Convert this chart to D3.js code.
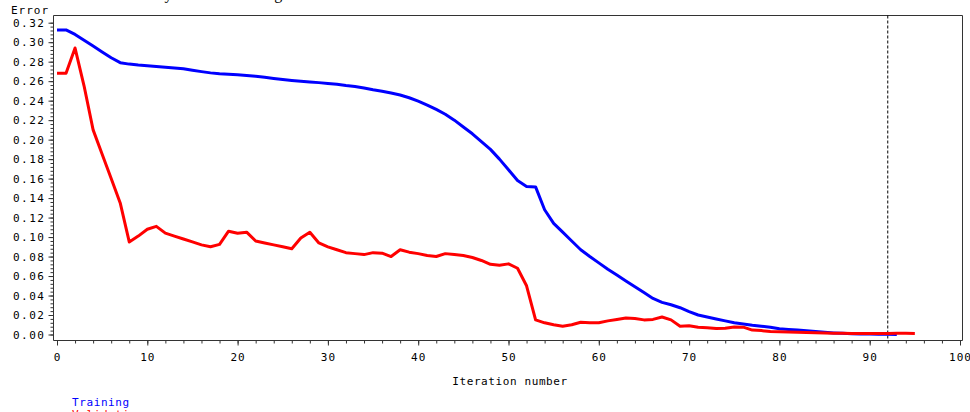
<!DOCTYPE html>
<html>
<head>
<meta charset="utf-8">
<script src="https://cdn.jsdelivr.net/npm/d3@7"></script>
<style>
    body { margin: 0; background: #fff; }
    svg { display: block; }
    .tick-label { font-family: "DejaVu Sans Mono", monospace; font-size: 11px; letter-spacing: 1.5px; fill: #000; }
</style>
</head>
<body>
<div id="chart"></div>
<script>
// DATA
// iteration numbers for each series
var trainIter = d3.range(0, 94);
var validIter = d3.range(0, 96);
// training error per iteration (blue)
var trainError = [
    0.3126, 0.3126, 0.3080, 0.3020, 0.2960, 0.2900, 0.2840, 0.2790, 0.2775, 0.2765,
    0.2758, 0.2750, 0.2742, 0.2735, 0.2727, 0.2712, 0.2698, 0.2685, 0.2675, 0.2670,
    0.2665, 0.2658, 0.2650, 0.2640, 0.2628, 0.2617, 0.2608, 0.2600, 0.2592, 0.2585,
    0.2577, 0.2568, 0.2555, 0.2545, 0.2530, 0.2512, 0.2497, 0.2478, 0.2458, 0.2430,
    0.2395, 0.2355, 0.2310, 0.2260, 0.2200, 0.2130, 0.2060, 0.1980, 0.1900, 0.1800,
    0.1690, 0.1580, 0.1520, 0.1515, 0.1280, 0.1140, 0.1050, 0.0960, 0.0870, 0.0800,
    0.0735, 0.0670, 0.0610, 0.0550, 0.0490, 0.0430, 0.0370, 0.0330, 0.0305, 0.0275,
    0.0235, 0.0200, 0.0180, 0.0160, 0.0140, 0.0120, 0.0108, 0.0095, 0.0085, 0.0075,
    0.0060, 0.0052, 0.0045, 0.0038, 0.0030, 0.0022, 0.0016, 0.0012, 0.0008, 0.0006,
    0.0004, 0.0003, 0.0002, 0.0001
];
// validation error per iteration (red)
var validError = [
    0.2680, 0.2680, 0.2940, 0.2550, 0.2100, 0.1850, 0.1600, 0.1350, 0.0950, 0.1010,
    0.1080, 0.1110, 0.1040, 0.1010, 0.0980, 0.0950, 0.0920, 0.0900, 0.0925, 0.1060,
    0.1040, 0.1050, 0.0960, 0.0940, 0.0920, 0.0900, 0.0880, 0.0990, 0.1050, 0.0940,
    0.0900, 0.0870, 0.0840, 0.0830, 0.0820, 0.0840, 0.0835, 0.0800, 0.0870, 0.0845,
    0.0830, 0.0810, 0.0800, 0.0830, 0.0820, 0.0810, 0.0790, 0.0760, 0.0720, 0.0710,
    0.0725, 0.0680, 0.0500, 0.0150, 0.0120, 0.0100, 0.0085, 0.0100, 0.0125, 0.0120,
    0.0120, 0.0140, 0.0155, 0.0170, 0.0165, 0.0150, 0.0155, 0.0180, 0.0150, 0.0085,
    0.0090, 0.0075, 0.0070, 0.0062, 0.0065, 0.0078, 0.0075, 0.0045, 0.0040, 0.0030,
    0.0027, 0.0025, 0.0022, 0.0020, 0.0018, 0.0015, 0.0013, 0.0012, 0.0010, 0.0010,
    0.0010, 0.0010, 0.0010, 0.0012, 0.0012, 0.0010
];
// axis ticks
var yTicks = d3.range(0, 0.3201, 0.02);
var xTicks = d3.range(0, 101, 10);
// selected iteration (dashed reference line)
var chosenIter = 92;
// legend entries
var legendLabels = ["Training", "Validation"];
var legendColors = ["#0000ff", "#ff0000"];

// GLOBAL VARIABLES
var svgWidth = 970;
var svgHeight = 412;
// the frame of the plot
var frame = { left: 53.5, right: 962.5, top: 15.5, bottom: 340.5 };

var svg = d3.select("#chart")
    .append("svg")
    .attr("width", svgWidth)
    .attr("height", svgHeight);

// scales
var xScale = d3.scaleLinear()
    .domain([0, 100])
    .range([57, 960]);
var yScale = d3.scaleLinear()
    .domain([0, 0.32])
    .range([334.5, 22.7]);

// clipped text of the page above the chart (only descenders show)
svg.append("text")
    .attr("x", 56)
    .attr("y", -1)
    .attr("font-family", "Liberation Serif")
    .attr("font-size", 16)
    .attr("fill", "#000")
    .text("error falls steadily with the training");

// frame (top and right sides)
svg.append("path")
    .attr("d", `M${frame.left},${frame.top}H${frame.right}V${frame.bottom}`)
    .attr("fill", "none")
    .attr("stroke", "#333")
    .attr("stroke-width", 1);

// y axis
var leftAxis = d3.axisLeft(yScale)
    .tickValues(yTicks)
    .tickSize(5)
    .tickPadding(3)
    .tickFormat(d3.format(".2f"));
var yMinor = d3.axisLeft(yScale)
    .tickValues(d3.range(0, 0.3201, 0.004))
    .tickSize(3)
    .tickFormat("");

var yAxisG = svg.append("g")
    .attr("transform", `translate(${frame.left}, 0)`)
    .call(leftAxis);
svg.append("g")
    .attr("transform", `translate(${frame.left}, 0)`)
    .call(yMinor);

// x axis
var bottomAxis = d3.axisBottom(xScale)
    .tickValues(xTicks)
    .tickSize(5)
    .tickPadding(8)
    .tickFormat(d3.format("d"));
var xMinor = d3.axisBottom(xScale)
    .tickValues(d3.range(0, 101, 2))
    .tickSize(3)
    .tickFormat("");

var xAxisG = svg.append("g")
    .attr("transform", `translate(0, ${frame.bottom})`)
    .call(bottomAxis);
svg.append("g")
    .attr("transform", `translate(0, ${frame.bottom})`)
    .call(xMinor);

// axis domain lines span the whole frame
svg.selectAll(".domain").remove();
svg.append("line")
    .attr("x1", frame.left).attr("x2", frame.left)
    .attr("y1", frame.top).attr("y2", frame.bottom)
    .attr("stroke", "#333");
svg.append("line")
    .attr("x1", frame.left).attr("x2", frame.right)
    .attr("y1", frame.bottom).attr("y2", frame.bottom)
    .attr("stroke", "#333");

svg.selectAll(".tick line").attr("stroke", "#333");
svg.selectAll(".tick text")
    .classed("tick-label", true)
    .attr("font-family", null)
    .attr("font-size", null);
xAxisG.selectAll(".tick text").style("letter-spacing", "1px");

// axis titles
svg.append("text")
    .attr("class", "tick-label")
    .attr("x", 11)
    .attr("y", 14)
    .style("letter-spacing", "1px")
    .text("Error");

svg.append("text")
    .attr("class", "tick-label")
    .attr("x", 510)
    .attr("y", 385)
    .attr("text-anchor", "middle")
    .style("letter-spacing", "0.6px")
    .text("Iteration number");

// dashed line at the chosen iteration
svg.append("line")
    .attr("x1", xScale(chosenIter)).attr("x2", xScale(chosenIter))
    .attr("y1", frame.top).attr("y2", frame.bottom)
    .attr("stroke", "#000")
    .attr("stroke-width", 1)
    .attr("stroke-dasharray", "3,2");

// the lines
var line = d3.line()
    .x(d => xScale(d[0]))
    .y(d => yScale(d[1]));

var trainData = trainIter.map((d, i) => [d, trainError[i]]);
var validData = validIter.map((d, i) => [d, validError[i]]);

svg.append("path")
    .datum(trainData)
    .attr("d", line)
    .attr("fill", "none")
    .attr("stroke", legendColors[0])
    .attr("stroke-width", 3)
    .attr("stroke-linejoin", "round");

svg.append("path")
    .datum(validData)
    .attr("d", line)
    .attr("fill", "none")
    .attr("stroke", legendColors[1])
    .attr("stroke-width", 3)
    .attr("stroke-linejoin", "round");

// legend
svg.selectAll(".legend")
    .data(legendLabels)
    .enter()
    .append("text")
    .attr("class", "tick-label legend")
    .attr("x", 72)
    .attr("y", (d, i) => 406 + i * 12)
    .style("letter-spacing", "0.6px")
    .style("fill", (d, i) => legendColors[i])
    .text(d => d);
</script>
</body>
</html>
